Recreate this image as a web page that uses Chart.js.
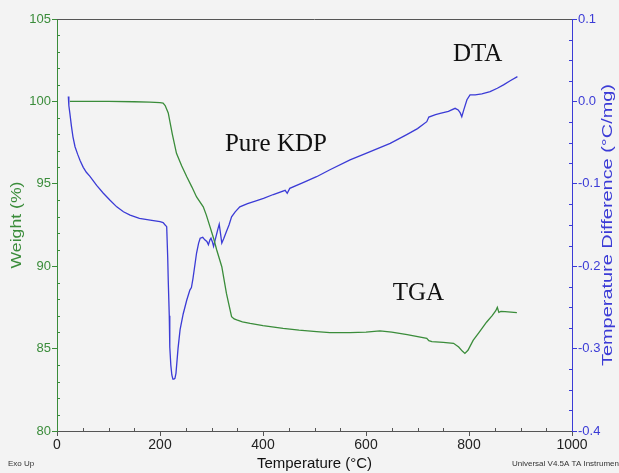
<!DOCTYPE html>
<html>
<head>
<meta charset="utf-8">
<script src="https://cdn.jsdelivr.net/npm/chart.js@4/dist/chart.umd.min.js"></script>
<style>
html, body { margin: 0; padding: 0; background: #f3f3f3; }
#wrap { width: 619px; height: 473px; }
</style>
</head>
<body>
<div id="wrap"><canvas id="thermo"></canvas></div>
<script>
// TGA: weight loss vs temperature
const tgaTemp = [25, 60, 100, 150, 180, 200, 206, 210, 216, 224, 232, 242, 252, 262, 271, 284, 290, 297, 304, 310,
  320, 329, 335, 339, 344, 349, 360, 375, 400, 439, 470, 504, 530, 569, 600, 627, 650, 680, 718, 722,
  728, 750, 770, 780, 787, 792, 798, 808, 820, 834, 845, 852, 855, 858, 862, 870, 893];
const tgaWeight = [100.0, 100.0, 100.0, 99.98, 99.95, 99.92, 99.9, 99.75, 99.3, 98.0, 96.85, 96.1, 95.43, 94.8, 94.2, 93.6, 93.1, 92.4, 91.7, 91.0,
  89.97, 88.35, 87.5, 86.94, 86.8, 86.74, 86.62, 86.53, 86.4, 86.23, 86.12, 86.03, 85.97, 85.97, 86.0, 86.07, 86.0, 85.85, 85.62, 85.48,
  85.42, 85.38, 85.32, 85.1, 84.85, 84.71, 84.9, 85.5, 86.0, 86.6, 87.0, 87.3, 87.5, 87.2, 87.25, 87.24, 87.18];

// DTA: temperature difference vs temperature
const dtaTemp = [22, 23, 25, 28, 31, 35, 40, 45, 51, 57, 64, 77, 90, 103, 116, 129, 142, 160, 181, 200, 206, 210, 213, 215,
  216, 218, 219, 221, 223, 225, 227, 229, 231, 235, 239, 245, 252, 258, 261, 264, 271, 275, 278, 283,
  287, 291, 294, 297, 299, 302, 304, 308, 312, 315, 317, 320, 324, 329, 334, 339, 346, 355, 370, 385,
  401, 420, 443, 447, 452, 480, 504, 530, 569, 600, 647, 680, 700, 718, 722, 735, 744, 760, 773, 779,
  783, 786, 790, 796, 802, 812, 825, 841, 855, 867, 880, 894];
const dtaDiff = [0.006, -0.005, -0.0145, -0.030, -0.043, -0.055, -0.064, -0.072, -0.080, -0.086, -0.091, -0.102, -0.1115, -0.120, -0.128, -0.134, -0.138, -0.142, -0.144, -0.146, -0.147, -0.150, -0.152, -0.190,
  -0.217, -0.260, -0.298, -0.320, -0.332, -0.337, -0.337, -0.336, -0.330, -0.300, -0.277, -0.258, -0.241, -0.229, -0.226, -0.215, -0.184, -0.172, -0.166, -0.165,
  -0.168, -0.170, -0.174, -0.168, -0.166, -0.171, -0.176, -0.166, -0.156, -0.149, -0.158, -0.172, -0.166, -0.158, -0.150, -0.140, -0.134, -0.128, -0.124, -0.121,
  -0.1176, -0.113, -0.108, -0.1115, -0.1055, -0.098, -0.0914, -0.083, -0.071, -0.063, -0.051, -0.040, -0.033, -0.0246, -0.019, -0.016, -0.0145, -0.012, -0.0084, -0.0104,
  -0.014, -0.0186, -0.010, 0.002, 0.0078, 0.0078, 0.009, 0.0118, 0.016, 0.020, 0.025, 0.030];

// axis ranges
const tempRange = [0, 1000];
const weightRange = [80, 105];
const diffRange = [-0.4, 0.1];

const GREEN = '#3a8c3a';
const BLUE = '#3b3bd6';
const SANS = '"Liberation Sans", Arial, sans-serif';
const SERIF = '"Liberation Serif", "Times New Roman", serif';

// curve labels, placed in data units (temperature, weight)
const notes = [
  { text: 'Pure KDP', t: 326, w: 97.0 },
  { text: 'DTA', t: 769, w: 102.45 },
  { text: 'TGA', t: 652, w: 87.95 }
];

const decor = {
  id: 'decor',
  afterDraw(chart) {
    const ctx = chart.ctx;
    const area = chart.chartArea;
    const sx = chart.scales.x, sw = chart.scales.yW, sd = chart.scales.yD;
    ctx.save();

    // top frame line
    ctx.strokeStyle = '#555';
    ctx.lineWidth = 1;
    ctx.beginPath();
    ctx.moveTo(area.left, Math.round(area.top) + 0.5);
    ctx.lineTo(area.right, Math.round(area.top) + 0.5);
    ctx.stroke();

    // minor ticks
    ctx.beginPath();
    for (let v = 50; v < 1000; v += 50) {
      if (v % 200 === 0) continue;
      const px = Math.round(sx.getPixelForValue(v)) + 0.5;
      ctx.moveTo(px, area.bottom);
      ctx.lineTo(px, area.bottom - 3);
    }
    ctx.stroke();
    ctx.strokeStyle = GREEN;
    ctx.beginPath();
    for (let v = 81; v < 105; v++) {
      if (v % 5 === 0) continue;
      const py = Math.round(sw.getPixelForValue(v)) + 0.5;
      ctx.moveTo(area.left, py);
      ctx.lineTo(area.left + 3, py);
    }
    ctx.stroke();
    ctx.strokeStyle = BLUE;
    ctx.beginPath();
    for (let i = 1; i < 20; i++) {
      if (i % 4 === 0) continue;
      const py = Math.round(sd.getPixelForValue(-0.4 + i * 0.025)) + 0.5;
      ctx.moveTo(area.right, py);
      ctx.lineTo(area.right - 3, py);
    }
    ctx.stroke();

    // vertical axis titles, drawn a little stretched along the text
    const midY = (area.top + area.bottom) / 2;
    const vTitle = (text, x, color, len) => {
      ctx.save();
      ctx.font = '15px ' + SANS;
      ctx.fillStyle = color;
      ctx.textAlign = 'center';
      ctx.textBaseline = 'middle';
      ctx.translate(x, midY);
      ctx.rotate(-Math.PI / 2);
      ctx.scale(len / ctx.measureText(text).width, 1);
      ctx.fillText(text, 0, 0);
      ctx.restore();
    };
    vTitle('Weight (%)', 17, GREEN, 87);
    vTitle('Temperature Difference (°C/mg)', 608, BLUE, 282);

    // curve labels
    ctx.fillStyle = '#111';
    ctx.font = '25px ' + SERIF;
    ctx.textAlign = 'left';
    ctx.textBaseline = 'alphabetic';
    notes.forEach(n => {
      ctx.fillText(n.text, sx.getPixelForValue(n.t), sw.getPixelForValue(n.w));
    });

    // instrument footer
    ctx.font = '8px ' + SANS;
    ctx.fillStyle = '#333';
    ctx.fillText('Exo Up', 8, 466);
    ctx.fillText('Universal V4.5A TA Instruments', 512, 466);
    ctx.restore();
  }
};

new Chart(document.getElementById('thermo'), {
  type: 'line',
  data: {
    datasets: [
      {
        label: 'TGA',
        data: tgaTemp.map((t, i) => ({ x: t, y: tgaWeight[i] })),
        yAxisID: 'yW',
        borderColor: GREEN,
        borderWidth: 1.3,
        pointRadius: 0,
        tension: 0
      },
      {
        label: 'DTA',
        data: dtaTemp.map((t, i) => ({ x: t, y: dtaDiff[i] })),
        yAxisID: 'yD',
        borderColor: BLUE,
        borderWidth: 1.3,
        pointRadius: 0,
        tension: 0
      }
    ]
  },
  options: {
    responsive: true,
    maintainAspectRatio: false,
    animation: false,
    layout: { padding: { top: 19, left: 0, right: 0, bottom: 0 } },
    plugins: { legend: { display: false }, tooltip: { enabled: false } },
    scales: {
      x: {
        type: 'linear',
        min: tempRange[0],
        max: tempRange[1],
        ticks: {
          stepSize: 200, color: '#222', padding: 1, maxRotation: 0, font: { family: SANS, size: 14 },
          callback: v => String(v)
        },
        grid: { drawOnChartArea: false, tickLength: 5, color: '#555' },
        border: { color: '#555' },
        title: { display: true, text: 'Temperature (°C)', color: '#111', padding: { top: 0, bottom: 0 }, font: { family: SANS, size: 15 } },
        afterFit(s) { s.height = 42; }
      },
      yW: {
        position: 'left',
        min: weightRange[0],
        max: weightRange[1],
        ticks: { stepSize: 5, color: GREEN, padding: 1, font: { family: SANS, size: 13 } },
        grid: { drawOnChartArea: false, tickLength: 5, color: GREEN },
        border: { color: GREEN },
        afterFit(s) { s.width = 57; }
      },
      yD: {
        position: 'right',
        min: diffRange[0],
        max: diffRange[1],
        ticks: {
          stepSize: 0.1, color: BLUE, padding: 1, font: { family: SANS, size: 13 },
          callback: v => (Math.abs(v) < 1e-9 ? 0 : v).toFixed(1)
        },
        grid: { drawOnChartArea: false, tickLength: 5, color: BLUE },
        border: { color: BLUE },
        afterFit(s) { s.width = 47; }
      }
    }
  },
  plugins: [decor]
});
</script>
</body>
</html>
